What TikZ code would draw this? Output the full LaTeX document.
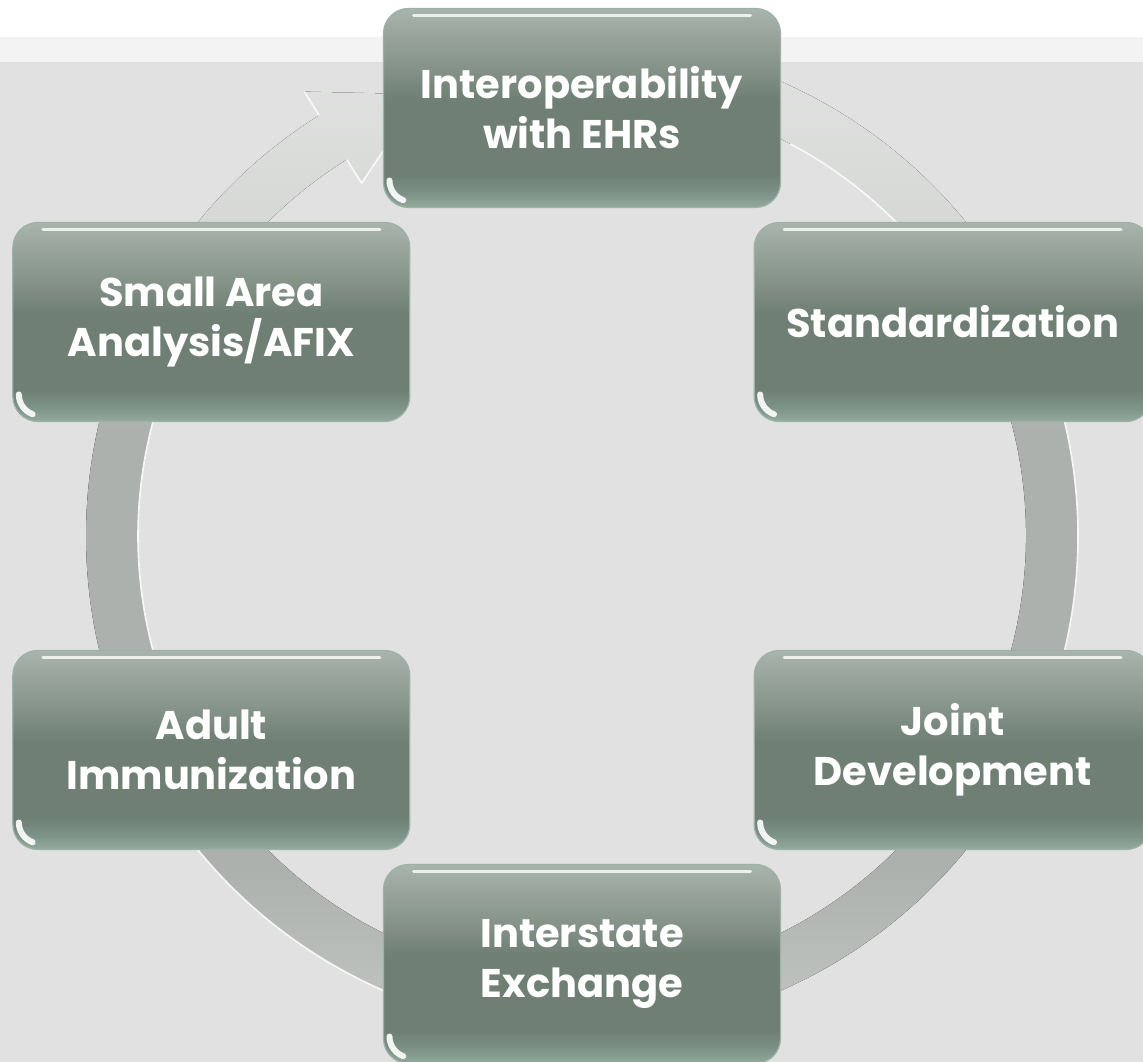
\documentclass[tikz,border=0pt]{standalone}
\usepackage{fontspec}
\setmainfont{Poppins}
\usetikzlibrary{calc}
\definecolor{bgpaper}{HTML}{E1E1E1}
\definecolor{bgstrip}{HTML}{F3F3F3}
\definecolor{rgtop}{HTML}{E3E4E3}
\definecolor{rgtopb}{HTML}{D6D8D6}
\definecolor{rgmid}{HTML}{ADB1AE}
\definecolor{rgbot}{HTML}{C6C9C6}
\definecolor{bxtop}{HTML}{A9B4AC}
\definecolor{bxtopb}{HTML}{8C998F}
\definecolor{bxmid}{HTML}{6F7F73}
\definecolor{bxbotb}{HTML}{80968A}
\definecolor{bxbot}{HTML}{93AB9C}
\definecolor{boxedge}{HTML}{9DB2A6}
\pgfdeclareverticalshading{ringfade}{100bp}{color(0bp)=(rgbot); color(25bp)=(rgbot);
  color(34bp)=(rgmid); color(55bp)=(rgmid); color(65bp)=(rgtopb); color(75bp)=(rgtop);
  color(100bp)=(rgtop)}
\pgfdeclareverticalshading{boxfade}{100bp}{color(0bp)=(bxbot); color(25bp)=(bxbot);
  color(28bp)=(bxbotb); color(33bp)=(bxmid); color(52bp)=(bxmid); color(63bp)=(bxtopb);
  color(75bp)=(bxtop); color(100bp)=(bxtop)}

\begin{document}
\begin{tikzpicture}[x=1pt,y=1pt,
  stage/.style={rectangle,rounded corners=25pt,minimum width=397pt,minimum height=199pt,
    shading=boxfade,draw=boxedge,line width=1.2pt,text=white,align=center,
    font=\bfseries\fontsize{40}{50}\selectfont,
    path picture={
      \draw[white,opacity=.8,line width=3pt,line cap=round]
        ([xshift=30pt,yshift=-7pt]path picture bounding box.north west) --
        ([xshift=-30pt,yshift=-7pt]path picture bounding box.north east);
      \draw[white,opacity=.9,line width=6pt,line cap=round]
        ([xshift=6pt,yshift=27pt]path picture bounding box.south west)
        arc[start angle=180,end angle=250,radius=21pt];
    }},
  ringlight/.style={white,line width=1.6pt,opacity=.9}]
\useasboundingbox (0,0) rectangle (1143,1062);
% backdrop
\fill[bgpaper] (0,0) rectangle (1143,1000);
\fill[bgstrip] (0,1000) rectangle (1143,1025);
\fill[white] (0,1025) rectangle (1143,1062);

\begin{scope}[shift={(582,526)}]
% the cycle arrow
\fill[shading=ringfade] (95:496) arc[start angle=95,end angle=-238,radius=496]
  -- (122:524) -- (110:470) -- (122:416) -- (122:444)
  arc[start angle=-238,end angle=95,radius=444] -- cycle;
\draw[ringlight] (32:444) arc[start angle=32,end angle=62,radius=444];
\draw[ringlight] (160:444) arc[start angle=160,end angle=200,radius=444];
\draw[ringlight] (-22:496) arc[start angle=-22,end angle=22,radius=496];
\draw[ringlight] (200:496) arc[start angle=200,end angle=248,radius=496];
\draw[ringlight] (122:524) -- (122:496) (122:444) -- (122:416) -- ($(122:416)!.45!(110:470)$);

% stages
\node[stage] (interop) at (90:428) {Interoperability\\with EHRs};
\node[stage] (standard) at (30:428) {Standardization};
\node[stage] (joint) at (-30:428) {Joint\\Development};
\node[stage] (interstate) at (-90:428) {Interstate\\Exchange};
\node[stage] (adult) at (210:428) {Adult\\Immunization};
\node[stage] (smallarea) at (150:428) {Small Area\\Analysis/AFIX};
\end{scope}
\end{tikzpicture}
\end{document}
